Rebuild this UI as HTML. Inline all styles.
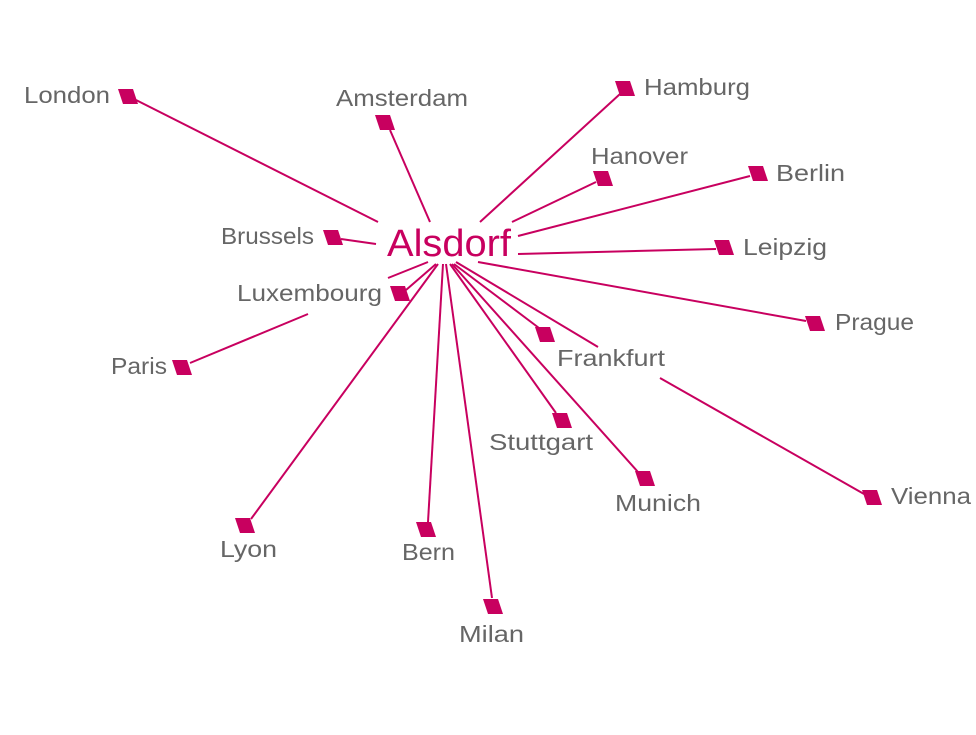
<!DOCTYPE html>
<html><head><meta charset="utf-8"><style>html,body{margin:0;padding:0;background:#fff}</style></head>
<body>
<svg width="976" height="730" viewBox="0 0 976 730" xmlns="http://www.w3.org/2000/svg">
<defs><polygon id="m" points="-10,-7 5,-7 10,8 -5,8" fill="#c8005f"/></defs>
<g stroke="#c8005f" stroke-width="2" fill="none">
<line x1="136" y1="100" x2="378" y2="222"/>
<line x1="390" y1="130" x2="430" y2="222"/>
<line x1="620" y1="94" x2="480" y2="222"/>
<line x1="596" y1="182" x2="512" y2="222"/>
<line x1="750" y1="176" x2="518" y2="236"/>
<line x1="716" y1="249" x2="518" y2="254"/>
<line x1="806" y1="321" x2="478" y2="262"/>
<line x1="341" y1="239" x2="376" y2="244"/>
<line x1="388" y1="278" x2="428" y2="262"/>
<line x1="406" y1="290" x2="436" y2="264"/>
<line x1="190" y1="363" x2="308" y2="314"/>
<line x1="251" y1="519" x2="438" y2="264"/>
<line x1="428" y1="522" x2="443" y2="264"/>
<line x1="492" y1="598" x2="446" y2="264"/>
<line x1="556" y1="413" x2="450" y2="264"/>
<line x1="638" y1="472" x2="452" y2="264"/>
<line x1="539" y1="328" x2="454" y2="264"/>
<line x1="598" y1="347" x2="456" y2="262"/>
<line x1="660" y1="378" x2="864" y2="494"/>
</g>
<use href="#m" x="128" y="96"/>
<use href="#m" x="385" y="122"/>
<use href="#m" x="625" y="88"/>
<use href="#m" x="603" y="178"/>
<use href="#m" x="758" y="173"/>
<use href="#m" x="724" y="247"/>
<use href="#m" x="815" y="323"/>
<use href="#m" x="333" y="237"/>
<use href="#m" x="400" y="293"/>
<use href="#m" x="182" y="367"/>
<use href="#m" x="245" y="525"/>
<use href="#m" x="426" y="529"/>
<use href="#m" x="493" y="606"/>
<use href="#m" x="562" y="420"/>
<use href="#m" x="645" y="478"/>
<use href="#m" x="545" y="334"/>
<use href="#m" x="872" y="497"/>
<g font-family="Liberation Sans, sans-serif" font-size="23" fill="#666">
<text x="24" y="103" textLength="86" lengthAdjust="spacingAndGlyphs">London</text>
<text x="336" y="106" textLength="132" lengthAdjust="spacingAndGlyphs">Amsterdam</text>
<text x="644" y="95" textLength="106" lengthAdjust="spacingAndGlyphs">Hamburg</text>
<text x="591" y="164" textLength="97" lengthAdjust="spacingAndGlyphs">Hanover</text>
<text x="776" y="181" textLength="69" lengthAdjust="spacingAndGlyphs">Berlin</text>
<text x="743" y="255" textLength="84" lengthAdjust="spacingAndGlyphs">Leipzig</text>
<text x="835" y="330" textLength="79" lengthAdjust="spacingAndGlyphs">Prague</text>
<text x="221" y="244" textLength="93" lengthAdjust="spacingAndGlyphs">Brussels</text>
<text x="237" y="301" textLength="145" lengthAdjust="spacingAndGlyphs">Luxembourg</text>
<text x="111" y="374" textLength="56" lengthAdjust="spacingAndGlyphs">Paris</text>
<text x="557" y="366" textLength="108" lengthAdjust="spacingAndGlyphs">Frankfurt</text>
<text x="489" y="450" textLength="104" lengthAdjust="spacingAndGlyphs">Stuttgart</text>
<text x="615" y="511" textLength="86" lengthAdjust="spacingAndGlyphs">Munich</text>
<text x="891" y="504" textLength="80" lengthAdjust="spacingAndGlyphs">Vienna</text>
<text x="220" y="557" textLength="57" lengthAdjust="spacingAndGlyphs">Lyon</text>
<text x="402" y="560" textLength="53" lengthAdjust="spacingAndGlyphs">Bern</text>
<text x="459" y="642" textLength="65" lengthAdjust="spacingAndGlyphs">Milan</text>
</g>
<text x="387" y="256" font-family="Liberation Sans, sans-serif" font-size="38" fill="#c8005f" textLength="124" lengthAdjust="spacingAndGlyphs">Alsdorf</text>
</svg>
</body></html>
